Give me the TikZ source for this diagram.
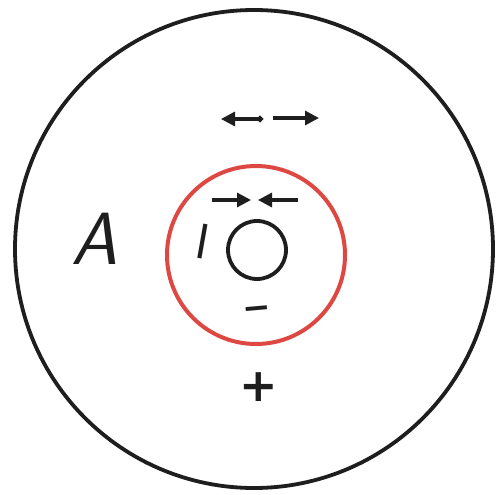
\documentclass[tikz,border=0pt]{standalone}
\usepackage{fontspec}
\newfontfamily\symfont{DejaVu Sans Bold}
\usetikzlibrary{arrows.meta}
\definecolor{ringred}{RGB}{222,72,66}
\definecolor{ink}{RGB}{30,30,30}
\tikzset{
  ring/.style={draw=ink, line width=3.8pt},
  redring/.style={draw=ringred, line width=4pt},
  forcearrow/.style={draw=ink, line width=3.2pt, -{Triangle[length=14pt,width=14pt]}},
  lbl/.style={inner sep=0pt, text=ink}
}
\begin{document}
\begin{tikzpicture}[x=1pt,y=-1pt]
\useasboundingbox (0,0) rectangle (496,495);
\fill[white] (0,0) rectangle (496,495);
% circles
\node[ring, circle, minimum size=478pt, inner sep=0pt] (outer) at (254,249) {};
\node[redring, circle, minimum size=178pt, inner sep=0pt] (red) at (256,255) {};
\node[ring, circle, minimum size=58pt, inner sep=0pt] (core) at (257,250) {};
% top arrows (outer region)
\coordinate (t1s) at (263,119);
\coordinate (t1e) at (221,119);
\coordinate (t2s) at (273,118);
\coordinate (t2e) at (319,118);
\draw[forcearrow, {Circle[length=6pt]}-{Triangle[length=14pt,width=14pt]}] (t1s) -- (t1e);
\draw[forcearrow] (t2s) -- (t2e);
% inner arrows (inside red ring)
\coordinate (i1s) at (212,200);
\coordinate (i1e) at (251,200);
\coordinate (i2s) at (298,200);
\coordinate (i2e) at (258,200);
\draw[forcearrow] (i1s) -- (i1e);
\draw[forcearrow] (i2s) -- (i2e);
% labels
\node[lbl, font=\sffamily\itshape\fontsize{74}{74}\selectfont] (A) at (95,239) {A};
\node[lbl, font=\sffamily\fontsize{50}{50}\selectfont, rotate=-10] (one) at (203,242) {I};
\node[lbl, font=\symfont\fontsize{34}{34}\selectfont, rotate=5] (minus) at (257,313) {−};
\node[lbl, font=\symfont\fontsize{46}{46}\selectfont] (plus) at (259,387) {+};
\end{tikzpicture}
\end{document}
